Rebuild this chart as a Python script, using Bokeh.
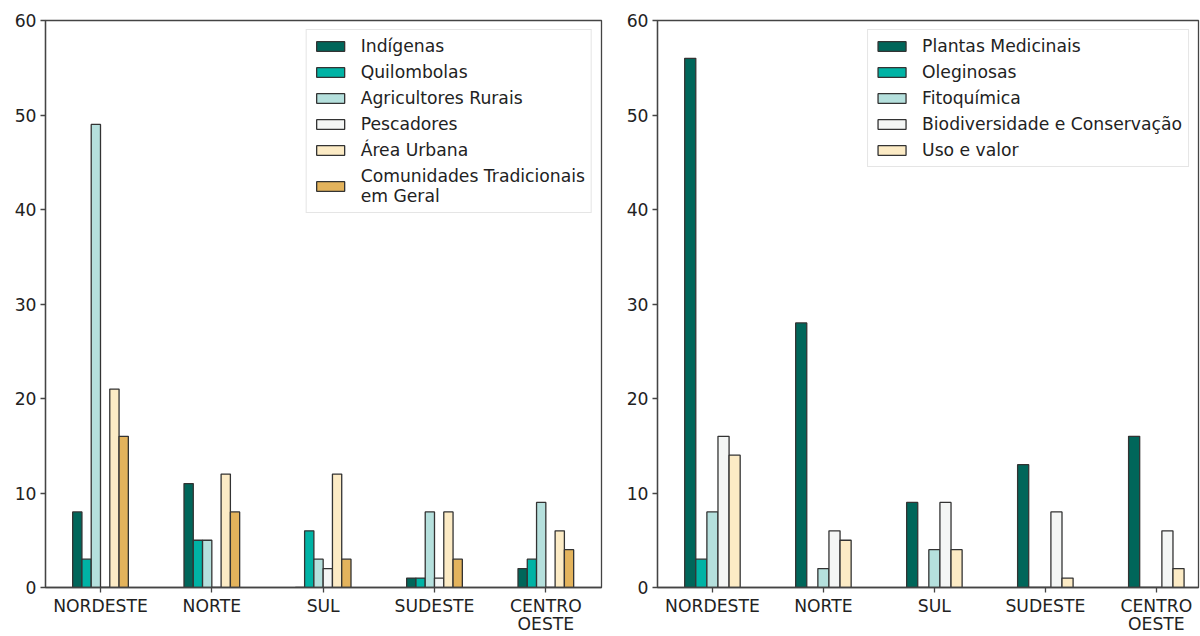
from bokeh.plotting import figure
from bokeh.models import ColumnDataSource, Range1d, FixedTicker, Legend, LegendItem
from bokeh.layouts import row
from bokeh.transform import dodge
from bokeh.embed import file_html
from bokeh.resources import INLINE

regions = ["NORDESTE", "NORTE", "SUL", "SUDESTE", "CENTRO\nOESTE"]

# Left panel: communities
left_series = ["Indígenas", "Quilombolas", "Agricultores Rurais", "Pescadores",
               "Área Urbana", "Comunidades Tradicionais\nem Geral"]
indigenas = [8, 11, 0, 1, 2]
quilombolas = [3, 5, 6, 1, 3]
agricultores = [49, 5, 3, 8, 9]
pescadores = [0, 0, 2, 1, 0]
area_urbana = [21, 12, 12, 8, 6]
comunidades = [16, 8, 3, 3, 4]
left_values = [indigenas, quilombolas, agricultores, pescadores, area_urbana, comunidades]

# Right panel: themes
right_series = ["Plantas Medicinais", "Oleginosas", "Fitoquímica",
                "Biodiversidade e Conservação", "Uso e valor"]
plantas = [56, 28, 9, 13, 16]
oleginosas = [3, 0, 0, 0, 0]
fitoquimica = [8, 2, 4, 0, 0]
biodiversidade = [16, 6, 9, 8, 6]
uso_valor = [14, 5, 4, 1, 2]
right_values = [plantas, oleginosas, fitoquimica, biodiversidade, uso_valor]

y_ticks = [0, 10, 20, 30, 40, 50, 60]

colors = ["#00665a", "#00b3a5", "#b5e0dd", "#f4f6f5", "#fcebc5", "#e3b35c"]

FONT = "DejaVu Sans"
FS = "17.2px"


def make_panel(series, values, width, x_start, x_end, bar_w, border_left, border_right):
    p = figure(width=width, height=636, output_backend="svg", toolbar_location=None,
               x_range=Range1d(x_start, x_end), y_range=Range1d(0, 60),
               min_border_left=border_left, min_border_right=border_right,
               min_border_top=20, min_border_bottom=0)
    data = {"x": list(range(len(regions)))}
    for i, v in enumerate(values):
        data["s%d" % i] = v
    src = ColumnDataSource(data)
    n = len(series)
    items = []
    for i in range(n):
        off = (i - (n - 1) / 2) * bar_w
        r = p.vbar(x=dodge("x", off), top="s%d" % i, width=bar_w, source=src,
                   fill_color=colors[i], line_color="#333333", line_width=1.3)
        items.append(LegendItem(label=series[i], renderers=[r]))
    legend = Legend(items=items, location="top_right")
    legend.label_text_font = FONT
    legend.label_text_font_size = FS
    legend.label_text_color = "#222222"
    legend.glyph_width = 35
    legend.glyph_height = 12
    legend.label_height = 18
    legend.label_standoff = 13
    legend.spacing = 6
    legend.padding = 6
    legend.margin = 9
    legend.border_line_color = "#cccccc"
    legend.border_line_width = 1
    legend.background_fill_alpha = 0.85
    p.add_layout(legend)

    p.xaxis.ticker = FixedTicker(ticks=list(range(len(regions))))
    p.xaxis.major_label_overrides = {i: lab for i, lab in enumerate(regions)}
    p.yaxis.ticker = FixedTicker(ticks=y_ticks)
    for ax in (p.xaxis, p.yaxis):
        ax.major_label_text_font = FONT
        ax.major_label_text_font_size = FS
        ax.major_label_text_color = "#222222"
        ax.axis_line_color = "#444444"
        ax.axis_line_width = 1.3
        ax.major_tick_line_color = "#444444"
        ax.major_tick_line_width = 1.3
        ax.major_tick_in = 0
        ax.major_tick_out = 5
        ax.minor_tick_line_color = None
        ax.major_label_standoff = 4
    p.xaxis.major_label_standoff = 3
    p.xaxis.major_label_text_line_height = 0.9
    p.xgrid.grid_line_color = None
    p.ygrid.grid_line_color = None
    p.outline_line_color = "#444444"
    p.outline_line_width = 1.3
    p.outline_line_alpha = 1
    p.background_fill_color = "white"
    p.border_fill_color = "white"
    return p


p1 = make_panel(left_series, left_values, 620, -0.494, 4.5, 0.5 / 6, 45, 19)
p2 = make_panel(right_series, right_values, 580, -0.495, 4.38, 0.1, 37, 2)

layout = row(p1, p2)
open("out.html", "w").write(file_html(layout, INLINE))
